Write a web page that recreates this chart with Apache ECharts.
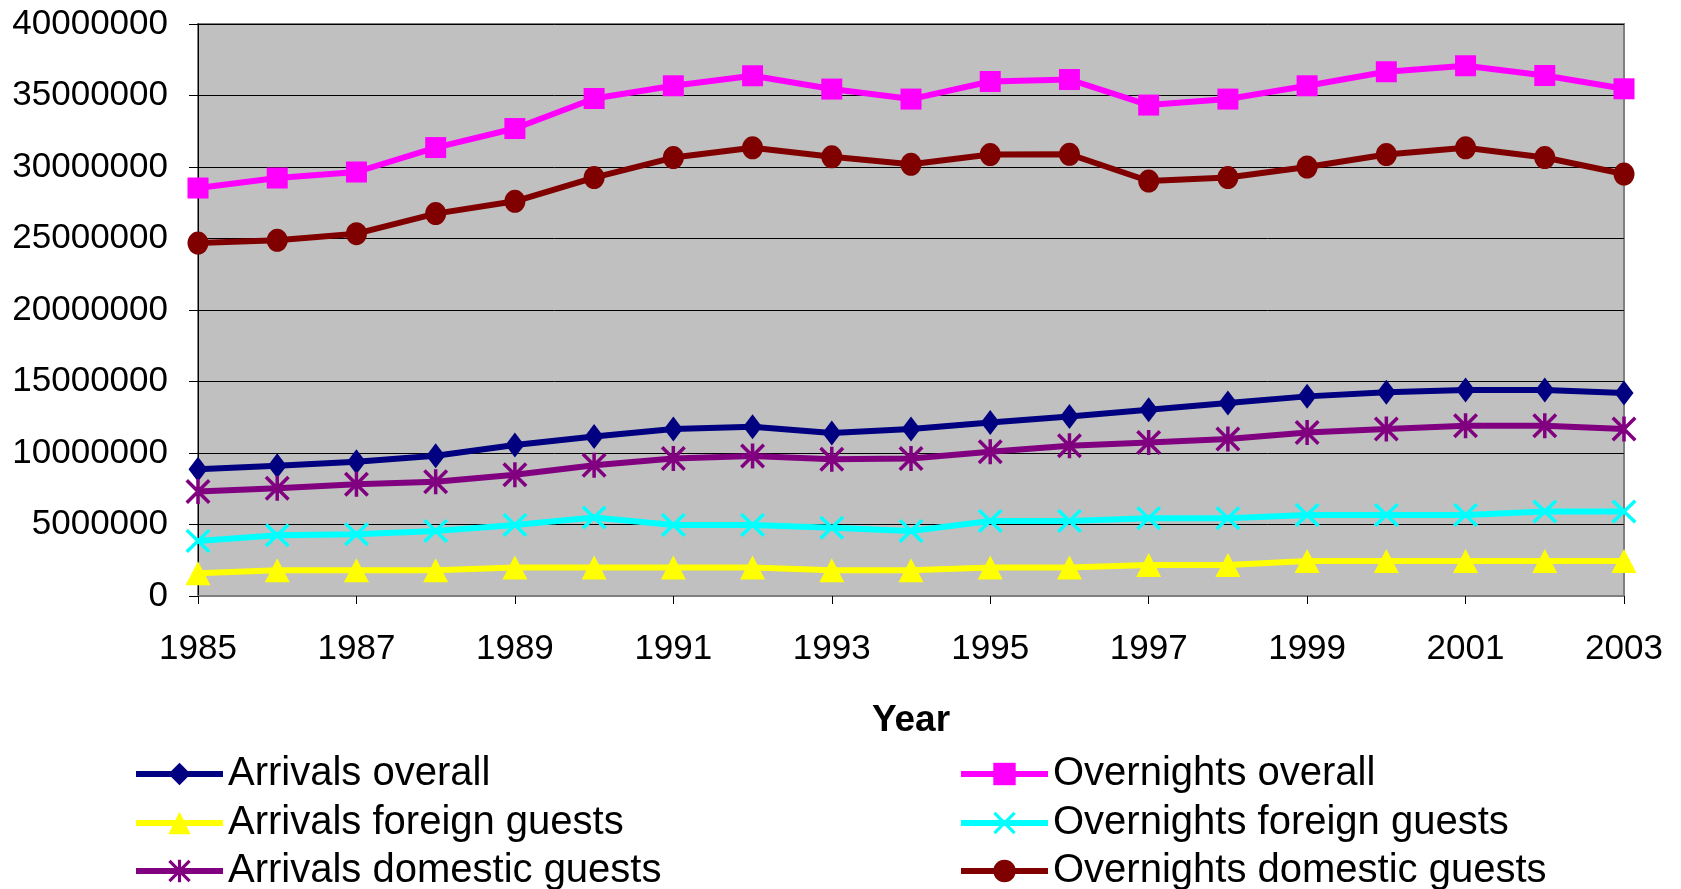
<!DOCTYPE html>
<html>
<head>
<meta charset="utf-8">
<script src="https://cdn.jsdelivr.net/npm/echarts@6/dist/echarts.min.js"></script>
<style>
  html, body { margin: 0; padding: 0; background: #ffffff; }
  #chart { width: 1681px; height: 889px; }
</style>
</head>
<body>
<div id="chart"></div>
<script>
// Tourist arrivals and overnight stays, 1985-2003
const years = ['1985','1986','1987','1988','1989','1990','1991','1992','1993','1994',
               '1995','1996','1997','1998','1999','2000','2001','2002','2003'];

const arrivalsOverall = [8870000, 9110000, 9390000, 9810000, 10560000, 11160000, 11680000, 11840000, 11400000, 11680000,
                         12140000, 12560000, 13030000, 13500000, 13960000, 14240000, 14410000, 14410000, 14200000];
const overnightsOverall = [28530000, 29230000, 29650000, 31360000, 32690000, 34790000, 35680000, 36380000, 35450000, 34750000,
                           35980000, 36120000, 34330000, 34750000, 35680000, 36660000, 37080000, 36400000, 35470000];
const arrivalsForeign = [1590000, 1800000, 1800000, 1800000, 1990000, 1990000, 1990000, 1990000, 1800000, 1800000,
                         1990000, 1990000, 2170000, 2170000, 2450000, 2450000, 2450000, 2450000, 2450000];
const overnightsForeign = [3850000, 4250000, 4320000, 4550000, 4970000, 5490000, 4970000, 4970000, 4780000, 4550000,
                           5250000, 5250000, 5440000, 5440000, 5670000, 5670000, 5670000, 5910000, 5910000];
const arrivalsDomestic = [7310000, 7540000, 7820000, 7990000, 8480000, 9150000, 9620000, 9790000, 9570000, 9620000,
                          10090000, 10510000, 10740000, 10980000, 11440000, 11680000, 11910000, 11910000, 11680000];
const overnightsDomestic = [24680000, 24870000, 25340000, 26740000, 27600000, 29260000, 30660000, 31340000, 30710000, 30190000,
                            30870000, 30890000, 29020000, 29260000, 30000000, 30870000, 31340000, 30660000, 29510000];

const FONT = '"Liberation Sans", Arial, sans-serif';

// filled marker outlines: a cross and a six-armed star
const crossPath = 'path://M0,10L10,0L100,90L90,100Z M90,0L100,10L10,100L0,90Z';
const starPath = 'path://M0,10L10,0L100,90L90,100Z M90,0L100,10L10,100L0,90Z M43,0L57,0L57,100L43,100Z';

function lineSeries(name, data, color, symbol, symbolSize) {
  return {
    name: name,
    type: 'line',
    data: data,
    symbol: symbol,
    symbolSize: symbolSize,
    showAllSymbol: true,
    lineStyle: { color: color, width: 6 },
    itemStyle: { color: color, borderWidth: 0 },
    emphasis: { disabled: true },
    z: 3
  };
}

// one legend entry per block: two columns of three rows
function legendEntry(left, top, name) {
  return {
    orient: 'horizontal',
    left: left,
    top: top,
    padding: 0,
    itemWidth: 87,
    itemHeight: 28,
    lineStyle: { width: 6 },
    textStyle: { fontFamily: FONT, fontSize: 40, color: '#000', lineHeight: 40 },
    data: [name]
  };
}

const chart = echarts.init(document.getElementById('chart'), null, { renderer: 'canvas' });

chart.setOption({
  animation: false,
  backgroundColor: '#ffffff',
  grid: {
    left: 198, top: 24, right: 57, bottom: 293,
    show: true,
    backgroundColor: '#c0c0c0',
    borderColor: '#808080',
    borderWidth: 2
  },
  xAxis: {
    type: 'category',
    data: years,
    boundaryGap: false,
    name: 'Year',
    nameLocation: 'middle',
    nameGap: 106,
    nameTextStyle: { fontFamily: FONT, fontSize: 37, fontWeight: 'bold', color: '#000' },
    axisLine: { show: true, lineStyle: { color: '#808080', width: 2 } },
    axisTick: { show: true, interval: 1, length: 8, lineStyle: { color: '#000', width: 1 } },
    axisLabel: { interval: 1, margin: 36, fontFamily: FONT, fontSize: 35, color: '#000' },
    splitLine: { show: false }
  },
  yAxis: {
    type: 'value',
    min: 0,
    max: 40000000,
    interval: 5000000,
    axisLine: { show: true, lineStyle: { color: '#000', width: 1 } },
    axisTick: { show: true, length: 9, lineStyle: { color: '#000', width: 1 } },
    axisLabel: { margin: 30, fontFamily: FONT, fontSize: 35, color: '#000', formatter: v => String(v) },
    splitLine: { show: true, lineStyle: { color: '#000', width: 1 } }
  },
  legend: [
    legendEntry(133, 754, 'Arrivals overall'),
    legendEntry(133, 803, 'Arrivals foreign guests'),
    legendEntry(133, 851, 'Arrivals domestic guests'),
    legendEntry(958, 754, 'Overnights overall'),
    legendEntry(958, 803, 'Overnights foreign guests'),
    legendEntry(958, 851, 'Overnights domestic guests')
  ],
  series: [
    lineSeries('Arrivals overall', arrivalsOverall, '#000080', 'diamond', [19, 25]),
    lineSeries('Overnights overall', overnightsOverall, '#ff00ff', 'rect', [21, 21]),
    lineSeries('Arrivals foreign guests', arrivalsForeign, '#ffff00', 'triangle', [25, 24]),
    lineSeries('Overnights foreign guests', overnightsForeign, '#00ffff', crossPath, [25, 24]),
    lineSeries('Arrivals domestic guests', arrivalsDomestic, '#800080', starPath, [25, 25]),
    lineSeries('Overnights domestic guests', overnightsDomestic, '#800000', 'circle', [21, 23])
  ]
});
</script>
</body>
</html>
